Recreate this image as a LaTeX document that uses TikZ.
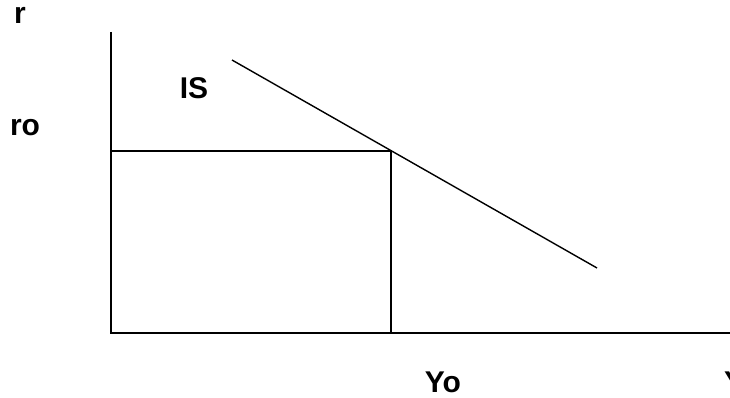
\documentclass[tikz,border=0pt]{standalone}
\usepackage{fontspec}
\setmainfont{Liberation Sans}
\usetikzlibrary{positioning}

\begin{document}
\begin{tikzpicture}[x=1pt, y=-1pt,
				lbl/.style={
					inner sep=0pt, font=\bfseries\fontsize{30}{36}\selectfont
				},
				axis/.style={line width=1.6pt},
				curve/.style={line width=1.4pt},
				]
				\useasboundingbox (0,0) rectangle (730,398);
				
				%axes
				\coordinate (origin) at (111,333);
				\coordinate (ytop) at (111,32);
				\coordinate (xend) at (732,333);
				\draw[axis] (ytop) -- (origin) -- (xend);
				
				%IS curve
				\coordinate (isstart) at (232,60);
				\coordinate (isend) at (597,268);
				\draw[curve] (isstart) -- (isend);
				
				%equilibrium
				\coordinate (eq) at (391,151);
				\coordinate (req) at (origin |- eq);
				\coordinate (yeq) at (eq |- origin);
				\draw[axis] (req) -- (eq) -- (yeq);
				
				%labels
				\node[lbl] (r) at (20,15) {r};
				\node[lbl] (ro) at (25,128) {ro};
				\node[lbl] (is) at (194,88) {IS};
				\node[lbl] (yo) at (443,382) {Yo};
				\node[lbl] (y) at (734,382) {Y};
			\end{tikzpicture}
\end{document}
